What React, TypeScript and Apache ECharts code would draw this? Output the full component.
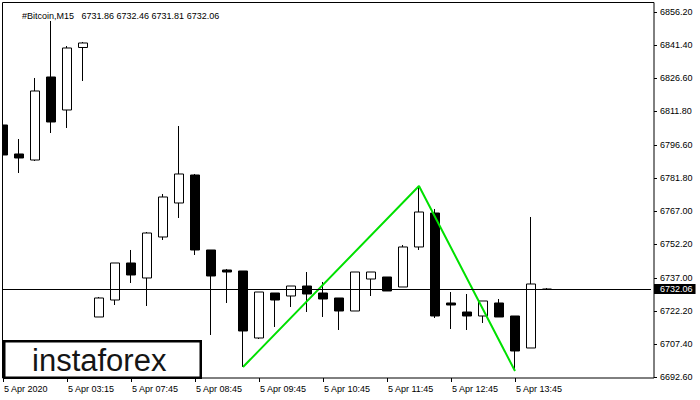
import React, { useEffect, useRef } from "react";
import * as echarts from "echarts";

const symbolName = "#Bitcoin,M15";

// OHLC of the 35 M15 bars (oldest first)
const opens = [
  6805.62, 6792.62, 6789.92, 6827.15, 6812.35, 6840.38, 6719.51, 6727.13, 6743.73, 6737.0,
  6755.39, 6770.64, 6783.2, 6749.56, 6740.59, 6740.14, 6710.09, 6730.27, 6728.93, 6733.41,
  6730.27, 6728.03, 6722.2, 6736.55, 6737.45, 6732.97, 6750.91, 6766.15, 6725.79, 6721.75,
  6719.96, 6725.79, 6719.96, 6705.61, 6731.86,
];
const highs = [
  6809.66, 6799.34, 6826.7, 6852.27, 6841.05, 6842.85, 6728.48, 6743.73, 6749.56, 6757.63,
  6774.68, 6805.17, 6783.65, 6749.56, 6741.04, 6740.14, 6730.72, 6730.27, 6733.41, 6739.69,
  6735.21, 6728.03, 6739.69, 6739.69, 6737.45, 6751.8, 6778.26, 6767.95, 6730.72, 6729.83,
  6726.69, 6727.58, 6719.96, 6764.36, 6732.46,
];
const lows = [
  6784.09, 6784.09, 6789.48, 6802.03, 6804.28, 6825.36, 6719.51, 6724.89, 6734.76, 6724.44,
  6754.04, 6763.91, 6747.32, 6711.44, 6725.79, 6697.09, 6709.64, 6715.03, 6724.0, 6721.75,
  6719.51, 6713.68, 6722.2, 6728.93, 6731.17, 6732.97, 6749.56, 6719.06, 6714.13, 6713.68,
  6716.82, 6719.51, 6695.29, 6705.61, 6731.81,
];
const closes = [
  6792.17, 6790.82, 6820.87, 6806.97, 6840.16, 6842.4, 6728.03, 6743.73, 6738.35, 6757.18,
  6773.33, 6783.65, 6749.56, 6737.9, 6739.69, 6713.23, 6730.72, 6727.13, 6733.41, 6729.83,
  6727.58, 6722.2, 6739.69, 6739.69, 6731.17, 6750.91, 6766.6, 6719.96, 6724.89, 6719.96,
  6726.69, 6719.51, 6704.26, 6734.31, 6732.06,
];

const currentPrice = 6732.06;

// price-axis tick labels
const yTickValues = [
  6692.6, 6707.4, 6722.2, 6737.0, 6752.2, 6767.0, 6781.8, 6796.6, 6811.8, 6826.6, 6841.4, 6856.2,
];

// time-axis labels, one every 4 bars
const xTickLabels = [
  "5 Apr 2020",
  "5 Apr 03:15",
  "5 Apr 07:45",
  "5 Apr 08:45",
  "5 Apr 09:45",
  "5 Apr 10:45",
  "5 Apr 11:45",
  "5 Apr 12:45",
  "5 Apr 13:45",
];
const barsPerLabel = 4;
const slotCount = 41; // bars + empty shift area on the right

// pattern (green) pivot points: [bar index, price]
const patternIndex = [15, 26, 32];
const patternPrice = [6697.09, 6778.26, 6695.29];

const FONT = "'Liberation Sans', Arial, sans-serif";
const SHIFT = 5; // chart canvas starts 5px left of the page so the first bar is cut by the frame

export default function App() {
  const ref = useRef<HTMLDivElement>(null);

  useEffect(() => {
    if (!ref.current) return;
    const chart = echarts.init(ref.current, null, { renderer: "svg" });

    const categories = Array.from({ length: slotCount }, (_, i) => String(i));
    const candleData = opens.map((o, i) => [o, closes[i], lows[i], highs[i]]);
    const greenData: (number | null)[] = categories.map(() => null);
    patternIndex.forEach((idx, k) => {
      greenData[idx] = patternPrice[k];
    });
    const last = opens.length - 1;
    const title = `${symbolName}   ${opens[last].toFixed(2)} ${highs[last].toFixed(2)} ${lows[last].toFixed(
      2
    )} ${closes[last].toFixed(2)}`;

    const showIdx = (i: number) => i % barsPerLabel === 0 && i / barsPerLabel < xTickLabels.length;

    const option: any = {
      animation: false,
      backgroundColor: "#ffffff",
      title: {
        text: title,
        left: 17 + SHIFT,
        top: 6,
        textStyle: {
          fontFamily: FONT,
          fontSize: 9,
          fontWeight: "normal",
          color: "#000",
          lineHeight: 10,
        },
      },
      grid: {
        left: 0,
        width: 656,
        top: 2.5,
        height: 375.5,
        containLabel: false,
      },
      xAxis: {
        type: "category",
        data: categories,
        boundaryGap: true,
        axisLine: { show: false },
        axisTick: {
          show: true,
          alignWithLabel: true,
          length: 4,
          interval: (i: number) => showIdx(i),
          lineStyle: { color: "#000", width: 1 },
        },
        axisLabel: {
          show: true,
          interval: (i: number) => showIdx(i),
          formatter: (_v: string, i: number) => (showIdx(i) ? xTickLabels[i / barsPerLabel] : ""),
          align: "left",
          margin: 6,
          padding: [0, 0, 0, 1],
          fontFamily: FONT,
          fontSize: 9,
          color: "#000",
        },
        splitLine: { show: false },
      },
      yAxis: {
        type: "value",
        position: "right",
        offset: 3,
        min: 6692.15,
        max: 6860.56,
        scale: true,
        axisLine: { show: false },
        axisTick: {
          show: true,
          length: 3,
          customValues: yTickValues,
          lineStyle: { color: "#000", width: 1 },
        },
        axisLabel: {
          show: true,
          customValues: yTickValues,
          formatter: (v: number) => v.toFixed(2),
          margin: 6,
          fontFamily: FONT,
          fontSize: 9,
          color: "#000",
        },
        splitLine: { show: false },
      },
      series: [
        {
          type: "line",
          name: "price",
          data: [],
          z: 1,
          silent: true,
          markLine: {
            silent: true,
            symbol: ["none", "none"],
            animation: false,
            lineStyle: { color: "#000", width: 1, type: "solid" },
            label: {
              show: true,
              position: "end",
              distance: 3,
              formatter: () => currentPrice.toFixed(2),
              backgroundColor: "#000",
              color: "#fff",
              fontFamily: FONT,
              fontSize: 9,
              lineHeight: 10,
              padding: [0, 3, 0, 6],
            },
            emphasis: { disabled: true },
            data: [{ yAxis: currentPrice }],
          },
        },
        {
          type: "candlestick",
          data: candleData,
          barWidth: 10,
          z: 2,
          silent: true,
          itemStyle: {
            color: "#ffffff",
            color0: "#000000",
            borderColor: "#000000",
            borderColor0: "#000000",
            borderWidth: 1,
          },
        },
        {
          type: "line",
          data: greenData,
          connectNulls: true,
          showSymbol: false,
          symbol: "none",
          z: 3,
          silent: true,
          lineStyle: { color: "#00e000", width: 2 },
        },
      ],
      graphic: [
        {
          type: "rect",
          z: 100,
          silent: true,
          shape: { x: 0, y: 0, width: SHIFT + 2, height: 400 },
          style: { fill: "#ffffff" },
        },
        {
          type: "rect",
          z: 101,
          silent: true,
          shape: { x: SHIFT + 2.5, y: 2.5, width: 651.5, height: 375.5 },
          style: { fill: "none", stroke: "#000", lineWidth: 1 },
        },
        {
          type: "rect",
          z: 102,
          silent: true,
          shape: { x: SHIFT + 4.25, y: 341.25, width: 196.5, height: 36.5 },
          style: { fill: "#ffffff", stroke: "#000", lineWidth: 2.5 },
        },
        {
          type: "text",
          z: 103,
          silent: true,
          x: SHIFT + 32,
          y: 360,
          style: {
            text: "instaforex",
            fontFamily: FONT,
            fontSize: 31,
            fill: "#151515",
            verticalAlign: "middle",
          },
        },
      ],
    };

    chart.setOption(option);
    return () => chart.dispose();
  }, []);

  return (
    <div
      ref={ref}
      style={{
        position: "fixed",
        left: -SHIFT,
        top: 0,
        width: 700 + SHIFT,
        height: 400,
        background: "#fff",
      }}
    />
  );
}
